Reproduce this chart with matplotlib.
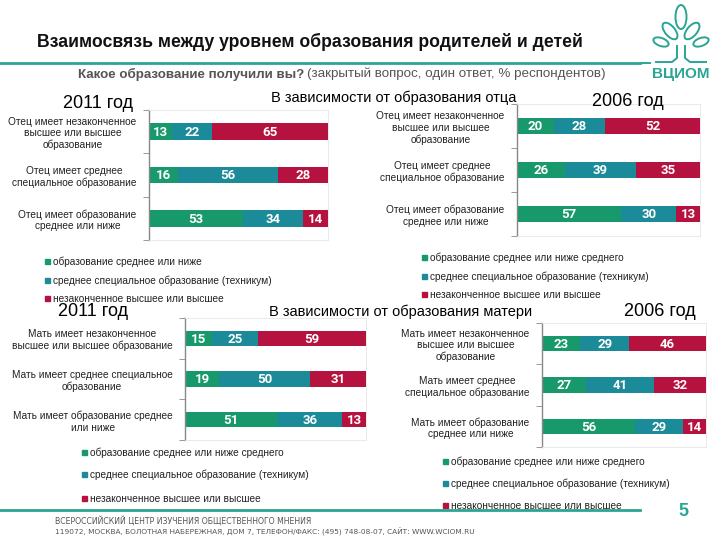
import matplotlib
matplotlib.use("Agg")
import matplotlib.pyplot as plt
import numpy as np
from matplotlib.patches import Ellipse, Rectangle
from matplotlib.lines import Line2D

plt.rcParams['font.family'] = ['Liberation Sans', 'DejaVu Sans']

# ---------------- data ----------------
series_names_a = ["образование среднее или ниже",
                  "среднее специальное образование (техникум)",
                  "незаконченное высшее или высшее"]
series_names_b = ["образование среднее или ниже среднего",
                  "среднее специальное образование (техникум)",
                  "незаконченное высшее или высшее"]

father_cats_2011 = ["Отец имеет незаконченное\nвысшее или высшее\nобразование",
                    "Отец имеет среднее\nспециальное образование",
                    "Отец имеет образование\nсреднее или ниже"]
father_cats_2006 = ["Отец имеет незаконченное\nвысшее или высшее\nобразование",
                    "Отец имеет среднее\nспециальное образование",
                    "Отец имеет образование\nсреднее или ниже"]
mother_cats_2011 = ["Мать имеет незаконченное\nвысшее или высшее образование",
                    "Мать имеет среднее специальное\nобразование",
                    "Мать имеет образование среднее\nили ниже"]
mother_cats_2006 = ["Мать имеет незаконченное\nвысшее или высшее\nобразование",
                    "Мать имеет среднее\nспециальное образование",
                    "Мать имеет образование\nсреднее или ниже"]

father_2011_secondary = [13, 16, 53]
father_2011_technical = [22, 56, 34]
father_2011_higher = [65, 28, 14]

father_2006_secondary = [20, 26, 57]
father_2006_technical = [28, 39, 30]
father_2006_higher = [52, 35, 13]

mother_2011_secondary = [15, 19, 51]
mother_2011_technical = [25, 50, 36]
mother_2011_higher = [59, 31, 13]

mother_2006_secondary = [23, 27, 56]
mother_2006_technical = [29, 41, 29]
mother_2006_higher = [46, 32, 14]

colors = ["#17996b", "#1b8a99", "#b5123f"]
TEAL = "#2aa594"

W, H = 720, 540
fig = plt.figure(figsize=(7.2, 5.4), dpi=100)


def rect(x0, y0, x1, y1):
    return [x0 / W, 1 - y1 / H, (x1 - x0) / W, (y1 - y0) / H]


def fx(x):
    return x / W


def fy(y):
    return 1 - y / H


def panel(box, cats, s1, s2, s3, barh=0.38):
    ax = fig.add_axes(rect(*box))
    data = np.array([s1, s2, s3], dtype=float)
    tot = data.sum(axis=0)
    pct = data / tot * 100
    y = np.arange(len(cats))
    left = np.zeros(len(cats))
    for i in range(3):
        bars = ax.barh(y, pct[i], left=left, height=barh, color=colors[i],
                       edgecolor='none')
        for j, b in enumerate(bars):
            ax.text(left[j] + pct[i][j] / 2, y[j] + 0.02, f"{int(data[i][j])}",
                    ha='center', va='center', color='white',
                    fontsize=9.5, fontweight='bold', family='Roboto')
        left += pct[i]
    ax.set_xlim(0, 100)
    ax.set_ylim(len(cats) - 0.5, -0.5)
    ax.set_xticks([])
    ax.set_yticks(y)
    ax.set_yticklabels(cats, fontsize=7.3, color='#222222')
    for lab in ax.get_yticklabels():
        lab.set_multialignment('center')
    ax.tick_params(axis='y', which='major', length=0, pad=9)
    ax.set_yticks(np.arange(-0.5, len(cats), 1.0), minor=True)
    ax.tick_params(axis='y', which='minor', length=4, color='#888888',
                   direction='out')
    for s in ['top', 'right', 'bottom']:
        ax.spines[s].set_color('#e6e6e6')
        ax.spines[s].set_linewidth(0.6)
    ax.spines['left'].set_color('#888888')
    ax.spines['left'].set_linewidth(1.0)
    ax.patch.set_alpha(0)
    return ax


def legend(xm, ys, names):
    for c, yy, name in zip(colors, ys, names):
        fig.patches.append(Rectangle((fx(xm - 2.5), fy(yy + 2.0)), 5 / W, 5 / H,
                                     transform=fig.transFigure, color=c,
                                     figure=fig))
        fig.text(fx(xm + 6), fy(yy), name, ha='left', va='center',
                 fontsize=7.3, color='#222222')


panel((149, 110, 328, 240), father_cats_2011, father_2011_secondary,
      father_2011_technical, father_2011_higher)
panel((517, 104, 700, 236), father_cats_2006, father_2006_secondary,
      father_2006_technical, father_2006_higher)
panel((185, 318, 366, 440), mother_cats_2011, mother_2011_secondary,
      mother_2011_technical, mother_2011_higher)
panel((542, 323, 706, 447), mother_cats_2006, mother_2006_secondary,
      mother_2006_technical, mother_2006_higher, barh=0.37)

legend(47, [262, 281, 299], series_names_a)
legend(424, [258, 277, 295], series_names_b)
legend(84, [453, 475, 499], series_names_b)
legend(445, [462, 484, 506], series_names_b)

# panel titles
fig.text(fx(98), fy(103), "2011 год", ha='center', va='center', fontsize=13)
fig.text(fx(628), fy(101), "2006 год", ha='center', va='center', fontsize=13)
fig.text(fx(93), fy(312), "2011 год", ha='center', va='center', fontsize=13)
fig.text(fx(660), fy(311), "2006 год", ha='center', va='center', fontsize=13)
fig.text(fx(394), fy(98), "В зависимости от образования отца", ha='center',
         va='center', fontsize=10.5)
fig.text(fx(401), fy(312), "В зависимости от образования матери", ha='center',
         va='center', fontsize=10.5)

# header
fig.text(fx(37), fy(42), "Взаимосвязь между уровнем образования родителей и детей",
         ha='left', va='center', fontsize=12.7, fontweight='bold', color='#111111')
fig.add_artist(Line2D([0, fx(640)], [fy(63), fy(63)], color=TEAL, lw=2,
                      transform=fig.transFigure))
t1 = fig.text(fx(78), fy(74), "Какое образование получили вы?", ha='left',
              va='center', fontsize=9.6, fontweight='bold', color='#555555')
fig.canvas.draw()
bb = t1.get_window_extent()
fig.text(bb.x1 / fig.bbox.width + 3 / W, fy(74),
         "(закрытый вопрос, один ответ, % респондентов)", ha='left',
         va='center', fontsize=9.6, color='#555555')

# logo
lax = fig.add_axes(rect(640, 0, 720, 85))
lax.set_xlim(640, 720)
lax.set_ylim(85, 0)
lax.axis('off')
leaf_kw = dict(fill=False, ec=TEAL, lw=1.4)
lax.add_patch(Ellipse((681, 17), 11, 24, **leaf_kw))
lax.add_patch(Ellipse((670, 31), 10, 20, angle=-40, **leaf_kw))
lax.add_patch(Ellipse((692, 31), 10, 20, angle=40, **leaf_kw))
lax.add_patch(Ellipse((661, 42), 8, 16, angle=-70, **leaf_kw))
lax.add_patch(Ellipse((701, 42), 8, 16, angle=70, **leaf_kw))
lax.plot([677, 677, 672, 656], [46, 58, 62, 62], color=TEAL, lw=1.4)
lax.plot([685, 685, 690, 706], [46, 58, 62, 62], color=TEAL, lw=1.4)
lax.plot([641, 650], [63, 63], color=TEAL, lw=1.4)
lax.text(681, 74, "ВЦИОМ", ha='center', va='center', fontsize=11,
         fontweight='bold', color=TEAL)

# footer
fig.add_artist(Line2D([0, fx(640)], [fy(510), fy(510)], color=TEAL, lw=2,
                      transform=fig.transFigure))
fig.text(fx(55), fy(521), "ВСЕРОССИЙСКИЙ ЦЕНТР ИЗУЧЕНИЯ ОБЩЕСТВЕННОГО МНЕНИЯ",
         ha='left', va='center', fontsize=5.6, color='#555555', family='DejaVu Sans')
fig.text(fx(55), fy(532),
         "119072, МОСКВА, БОЛОТНАЯ НАБЕРЕЖНАЯ, ДОМ 7, ТЕЛЕФОН/ФАКС: (495) 748-08-07, САЙТ: WWW.WCIOM.RU",
         ha='left', va='center', fontsize=5.3, color='#555555', family='DejaVu Sans')
fig.text(fx(683), fy(512), "5", ha='center', va='center', fontsize=13,
         fontweight='bold', color=TEAL)

fig.savefig("out.png", dpi=100)
